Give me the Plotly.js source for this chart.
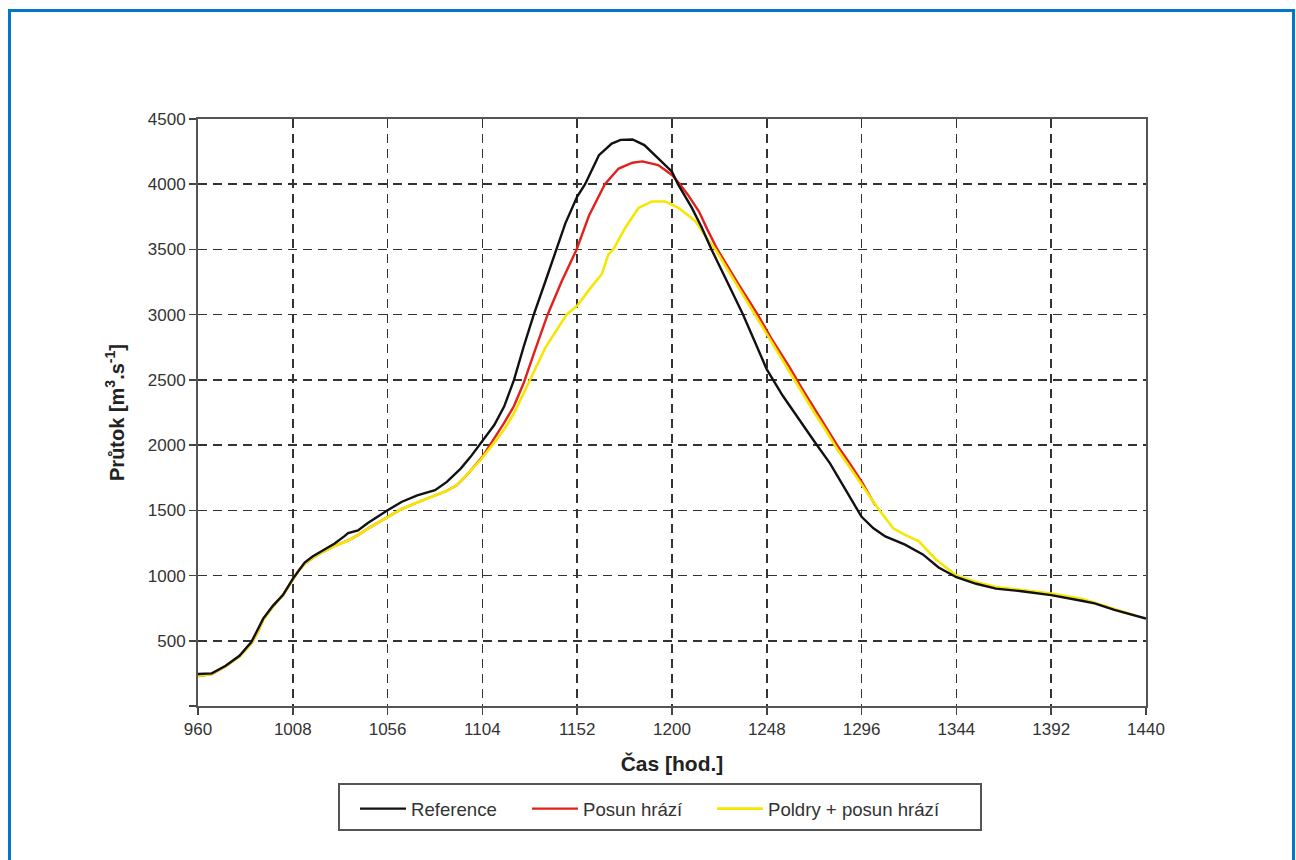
<!DOCTYPE html>
<html>
<head>
<meta charset="utf-8">
<script src="https://cdn.plot.ly/plotly-3.0.1.min.js"></script>
<style>
  html, body { margin: 0; padding: 0; background: #fff; }
  #wrap { position: relative; width: 1296px; height: 860px; overflow: hidden; }
  #chart { position: absolute; left: 0; top: 0; width: 1296px; height: 860px; }
  #frame { position: absolute; left: 8px; top: 9px; width: 1287px; height: 900px;
           border: 3px solid #0077c8; box-sizing: border-box; pointer-events: none; }
</style>
</head>
<body>
<div id="wrap">
  <div id="chart"></div>
  <div id="frame"></div>
</div>
<script>
// ---- data ----
const refT = [960, 967, 974, 981, 987, 989, 993, 998, 1003, 1008, 1011, 1014, 1018, 1023, 1029, 1034, 1036, 1041, 1046, 1056, 1063, 1071, 1080, 1086, 1093, 1098, 1103, 1110, 1115, 1120, 1125, 1130, 1136, 1141.5, 1146, 1152, 1156, 1163, 1169.5, 1174, 1180, 1186, 1193, 1200, 1203, 1210, 1215, 1220, 1228, 1236, 1242, 1248, 1256, 1264, 1272, 1280, 1288, 1292, 1296, 1302, 1308, 1318, 1327, 1335, 1344, 1354, 1364, 1377, 1392, 1408, 1414, 1424, 1440];
const refQ = [245, 250, 308, 385, 490, 550, 670, 770, 850, 975, 1040, 1100, 1146, 1192, 1244, 1300, 1325, 1346, 1403, 1500, 1564, 1615, 1654, 1718, 1820, 1910, 2013, 2154, 2295, 2500, 2760, 3000, 3260, 3500, 3700, 3906, 4000, 4223, 4312, 4340, 4343, 4300, 4198, 4096, 4000, 3820, 3670, 3500, 3250, 3000, 2790, 2580, 2380, 2200, 2030, 1860, 1660, 1560, 1450, 1362, 1300, 1237, 1162, 1062, 987, 937, 900, 880, 850, 805, 787, 737, 670];

const posunT = [960, 967, 974, 981, 987, 990, 993, 998, 1003, 1008, 1011, 1014, 1018, 1023, 1029, 1036, 1041, 1046, 1056, 1063, 1071, 1080, 1086, 1091, 1096, 1104, 1110, 1115, 1120, 1125, 1130, 1137, 1144, 1151.7, 1158, 1166, 1173, 1180, 1185, 1193, 1200, 1204, 1208, 1213.6, 1218, 1223, 1233, 1243.4, 1251, 1259.4, 1266, 1272, 1278, 1284, 1290, 1296, 1303];
const posunQ = [230, 245, 305, 380, 480, 560, 660, 765, 850, 975, 1040, 1090, 1135, 1180, 1225, 1269, 1310, 1360, 1449, 1510, 1560, 1615, 1650, 1692, 1769, 1910, 2050, 2170, 2300, 2480, 2700, 3000, 3250, 3500, 3760, 4000, 4120, 4165, 4175, 4147, 4071, 4000, 3920, 3792, 3650, 3500, 3250, 3000, 2800, 2599, 2430, 2280, 2140, 1990, 1860, 1720, 1537];

const poldryT = [960, 967, 974, 981, 987, 990, 993, 998, 1003, 1008, 1011, 1014, 1018, 1023, 1029, 1036, 1041, 1046, 1056, 1063, 1071, 1080, 1086, 1091, 1096, 1103, 1109, 1115, 1120, 1128, 1136, 1146.6, 1152, 1158, 1164.4, 1167.8, 1170.3, 1176.3, 1183, 1189.8, 1196.6, 1203.4, 1211.9, 1218.7, 1222, 1232, 1242, 1250, 1257.7, 1265, 1272, 1278, 1284, 1290, 1296, 1305, 1312, 1318, 1325, 1333.5, 1344, 1354, 1364, 1377, 1392, 1408, 1424, 1434];
const poldryQ = [230, 245, 305, 380, 480, 560, 660, 765, 850, 975, 1040, 1090, 1135, 1180, 1225, 1269, 1310, 1360, 1449, 1510, 1560, 1615, 1650, 1692, 1769, 1885, 2000, 2120, 2244, 2500, 2750, 3000, 3069, 3190, 3310, 3462, 3500, 3665, 3817, 3868, 3868, 3817, 3716, 3563, 3500, 3250, 3000, 2800, 2600, 2420, 2250, 2110, 1960, 1830, 1700, 1500, 1362, 1312, 1262, 1125, 1000, 950, 912, 890, 862, 820, 745, 695];

const seriesNames = ['Reference', 'Posun hrází', 'Poldry + posun hrází'];
const seriesColors = ['#111111', '#e3201c', '#f7e600'];

const xTicks = [960, 1008, 1056, 1104, 1152, 1200, 1248, 1296, 1344, 1392, 1440];
const yTicks = [0, 500, 1000, 1500, 2000, 2500, 3000, 3500, 4000, 4500];
const yTickText = ['', '500', '1000', '1500', '2000', '2500', '3000', '3500', '4000', '4500'];

const xTitle = 'Čas [hod.]';
const yTitle = 'Průtok [m<sup>3</sup>.s<sup>-1</sup>]';

// ---- traces: red bottom, yellow middle, black on top ----
const traces = [
  { x: posunT, y: posunQ, name: seriesNames[1], legend: 'legend2', mode: 'lines',
    line: { color: seriesColors[1], width: 2.4 } },
  { x: poldryT, y: poldryQ, name: seriesNames[2], legend: 'legend3', mode: 'lines',
    line: { color: seriesColors[2], width: 2.6 } },
  { x: refT, y: refQ, name: seriesNames[0], legend: 'legend', mode: 'lines',
    line: { color: seriesColors[0], width: 2.4 } }
];

const fontFam = 'Liberation Sans, Arial, Helvetica, sans-serif';
const L = 198, R = 1146, T = 119, B = 706;
const px = v => (v - L) / (R - L);
const py = v => (B - v) / (B - T);

function legendAt(left) {
  return {
    orientation: 'h', x: px(left), xanchor: 'left', y: py(790), yanchor: 'top',
    bgcolor: 'rgba(0,0,0,0)', borderwidth: 0, itemwidth: 46,
    font: { family: fontFam, size: 18.6, color: '#333' }
  };
}

const layout = {
  width: 1296, height: 860,
  margin: { l: L, r: 1296 - R, t: T, b: 860 - B, pad: 0 },
  paper_bgcolor: '#ffffff', plot_bgcolor: '#ffffff',
  showlegend: true,
  font: { family: fontFam, size: 17, color: '#333' },
  xaxis: {
    range: [960, 1440], tickvals: xTicks, ticktext: xTicks.map(String),
    showgrid: true, gridcolor: '#333', gridwidth: 1.6, griddash: '9px,6px',
    showline: true, linecolor: '#555', linewidth: 2, mirror: true,
    ticks: 'outside', ticklen: 7, tickwidth: 1.5, tickcolor: '#444',
    zeroline: false, automargin: false,
    tickfont: { family: fontFam, size: 17, color: '#333' },
    title: { text: xTitle, standoff: 18, font: { family: fontFam, size: 21, color: '#222', weight: 'bold' } }
  },
  yaxis: {
    range: [0, 4500], tickvals: yTicks, ticktext: yTickText,
    showgrid: true, gridcolor: '#333', gridwidth: 1.6, griddash: '9px,6px',
    showline: true, linecolor: '#555', linewidth: 2, mirror: true,
    ticks: 'outside', ticklen: 7, tickwidth: 1.5, tickcolor: '#444',
    zeroline: false, automargin: false,
    tickfont: { family: fontFam, size: 17, color: '#333' },
    title: { text: yTitle, standoff: 18, font: { family: fontFam, size: 20, color: '#222', weight: 'bold' } }
  },
  legend: legendAt(355),
  legend2: legendAt(527),
  legend3: legendAt(712),
  shapes: [
    { type: 'rect', xref: 'paper', yref: 'paper',
      x0: px(339), x1: px(981), y0: py(830), y1: py(784),
      line: { color: '#555', width: 2 }, fillcolor: 'rgba(0,0,0,0)', layer: 'below' }
  ]
};

Plotly.newPlot('chart', traces, layout, { displayModeBar: false, staticPlot: true });
</script>
</body>
</html>
